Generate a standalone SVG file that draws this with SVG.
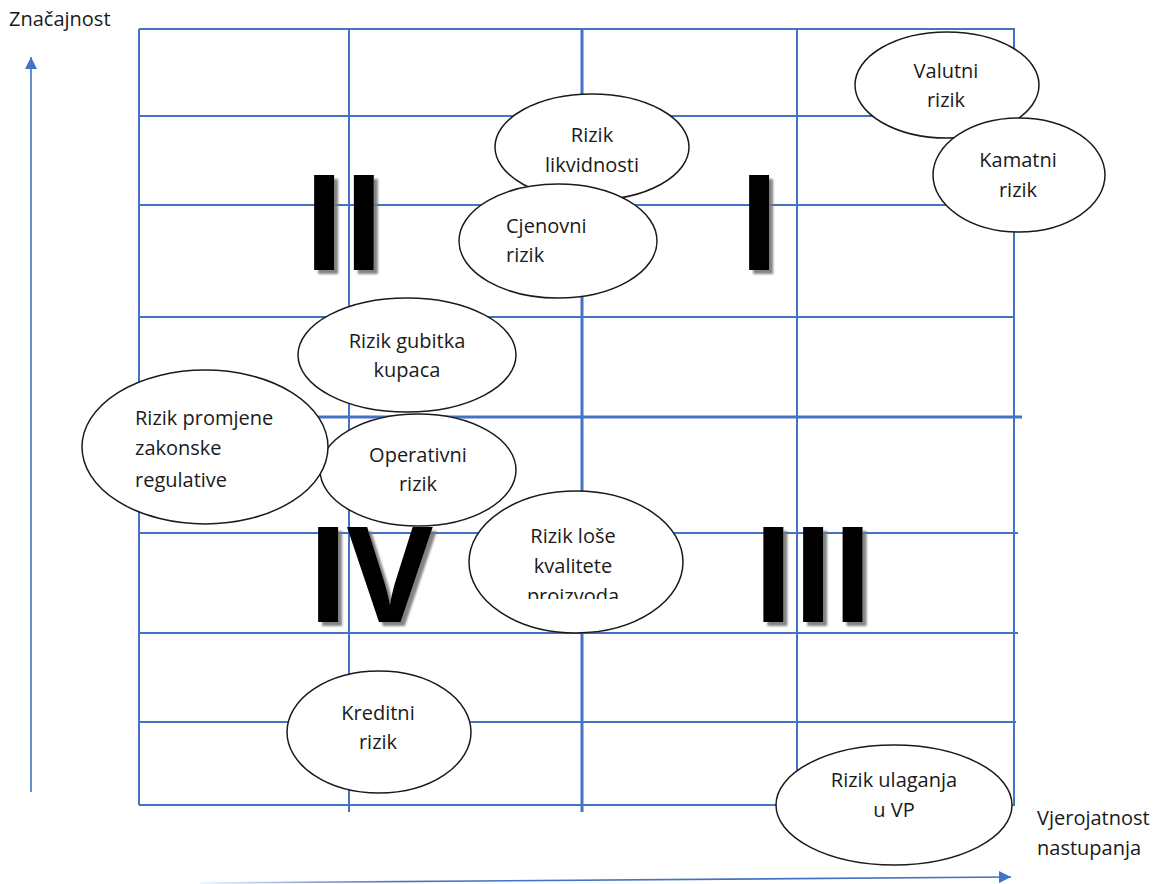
<svg xmlns="http://www.w3.org/2000/svg" width="1162" height="884" viewBox="0 0 1162 884">
<defs>
<style>
.g{stroke:#4472C4;stroke-width:2;fill:none}
.gt{stroke:#4472C4;stroke-width:3;fill:none}
.e{fill:#fff;stroke:#1a1a1a;stroke-width:1.5}
.t{font-family:"Open Sans","Noto Sans","Liberation Sans",sans-serif;font-size:20px;fill:#1a1a1a}
.c{text-anchor:middle}
.r{font-family:"Open Sans","Noto Sans","Liberation Sans",sans-serif;font-weight:bold;font-size:132px;fill:#000;text-anchor:middle}
.ax{stroke:#4472C4;stroke-width:1.6;fill:none}
</style>
<marker id="ah" markerUnits="userSpaceOnUse" markerWidth="12" markerHeight="12" refX="12" refY="6" orient="auto">
<path d="M0,0 L12,6 L0,12 z" fill="#4472C4"/>
</marker>
<linearGradient id="xg" gradientUnits="userSpaceOnUse" x1="200" y1="0" x2="1011" y2="0">
<stop offset="0" stop-color="#4472C4" stop-opacity="0.1"/>
<stop offset="0.25" stop-color="#4472C4" stop-opacity="1"/>
<stop offset="1" stop-color="#4472C4" stop-opacity="1"/>
</linearGradient>
<filter id="sh" x="-20%" y="-20%" width="150%" height="150%">
<feDropShadow dx="4" dy="4" stdDeviation="1" flood-color="#777" flood-opacity="0.9"/>
</filter>
<clipPath id="clipLose"><rect x="460" y="480" width="240" height="119"/></clipPath>
</defs>
<rect width="1162" height="884" fill="#fff"/>

<g id="grid">
<line class="g" x1="139" y1="29" x2="139" y2="805"/>
<line class="g" x1="349" y1="29" x2="349" y2="812"/>
<line class="gt" x1="582" y1="29" x2="582" y2="812"/>
<line class="g" x1="797" y1="29" x2="797" y2="805"/>
<line class="g" x1="1014" y1="29" x2="1014" y2="805"/>
<line class="g" x1="139" y1="29" x2="1015" y2="29"/>
<line class="g" x1="139" y1="116" x2="1015" y2="116"/>
<line class="g" x1="139" y1="205" x2="1015" y2="205"/>
<line class="g" x1="139" y1="317" x2="1015" y2="317"/>
<line class="gt" x1="139" y1="417" x2="1022" y2="417"/>
<line class="g" x1="139" y1="533" x2="1018" y2="533"/>
<line class="g" x1="139" y1="633" x2="1018" y2="633"/>
<line class="g" x1="139" y1="722" x2="1016" y2="722"/>
<line class="g" x1="139" y1="805" x2="1015" y2="805"/>
</g>

<g id="connectors">
<line class="ax" x1="31" y1="792" x2="31" y2="57" marker-end="url(#ah)"/>
<line x1="200" y1="883" x2="1011" y2="877" stroke="url(#xg)" stroke-width="1.6" marker-end="url(#ah)"/>
</g>

<g id="quadrants" filter="url(#sh)">
<text class="r" x="342" y="270" letter-spacing="-4">II</text>
<text class="r" x="759" y="270">I</text>
<text class="r" x="811" y="622" letter-spacing="-4">III</text>
<text class="r" x="368" y="622" letter-spacing="-3">IV</text>
</g>

<g id="valutni">
<ellipse class="e" cx="947" cy="85" rx="92" ry="53"/>
<text class="t c" x="946" y="78">Valutni</text>
<text class="t c" x="946" y="107">rizik</text>
</g>
<g id="kamatni">
<ellipse class="e" cx="1019" cy="175" rx="86" ry="57"/>
<text class="t c" x="1018" y="167">Kamatni</text>
<text class="t c" x="1018" y="197">rizik</text>
</g>
<g id="likvidnosti">
<ellipse class="e" cx="592" cy="147" rx="97" ry="53"/>
<text class="t c" x="592" y="142">Rizik</text>
<text class="t c" x="592" y="172">likvidnosti</text>
</g>
<g id="cjenovni">
<ellipse class="e" cx="558" cy="241" rx="99" ry="57"/>
<text class="t" x="506" y="233">Cjenovni</text>
<text class="t" x="506" y="262">rizik</text>
</g>
<g id="gubitka">
<ellipse class="e" cx="407" cy="355" rx="109" ry="57"/>
<text class="t c" x="407" y="348">Rizik gubitka</text>
<text class="t c" x="407" y="377">kupaca</text>
</g>
<g id="operativni">
<ellipse class="e" cx="418" cy="470" rx="98" ry="56"/>
<text class="t c" x="418" y="462">Operativni</text>
<text class="t c" x="418" y="491">rizik</text>
</g>
<g id="promjene">
<ellipse class="e" cx="205" cy="447" rx="123" ry="77"/>
<text class="t" x="135" y="425">Rizik promjene</text>
<text class="t" x="135" y="455">zakonske</text>
<text class="t" x="135" y="487">regulative</text>
</g>
<g id="lose">
<ellipse class="e" cx="576" cy="562" rx="107" ry="71"/>
<g clip-path="url(#clipLose)">
<text class="t c" x="573" y="543">Rizik loše</text>
<text class="t c" x="573" y="573">kvalitete</text>
<text class="t c" x="573" y="603">proizvoda</text>
</g>
</g>
<g id="kreditni">
<ellipse class="e" cx="379" cy="732" rx="92" ry="61"/>
<text class="t c" x="378" y="720">Kreditni</text>
<text class="t c" x="378" y="749">rizik</text>
</g>
<g id="ulaganja">
<ellipse class="e" cx="894" cy="805" rx="118" ry="60"/>
<text class="t c" x="894" y="787">Rizik ulaganja</text>
<text class="t c" x="894" y="817">u VP</text>
</g>

<g id="axis-labels">
<text class="t" x="9" y="26">Značajnost</text>
<text class="t" x="1037" y="825">Vjerojatnost</text>
<text class="t" x="1037" y="855">nastupanja</text>
</g>
</svg>
